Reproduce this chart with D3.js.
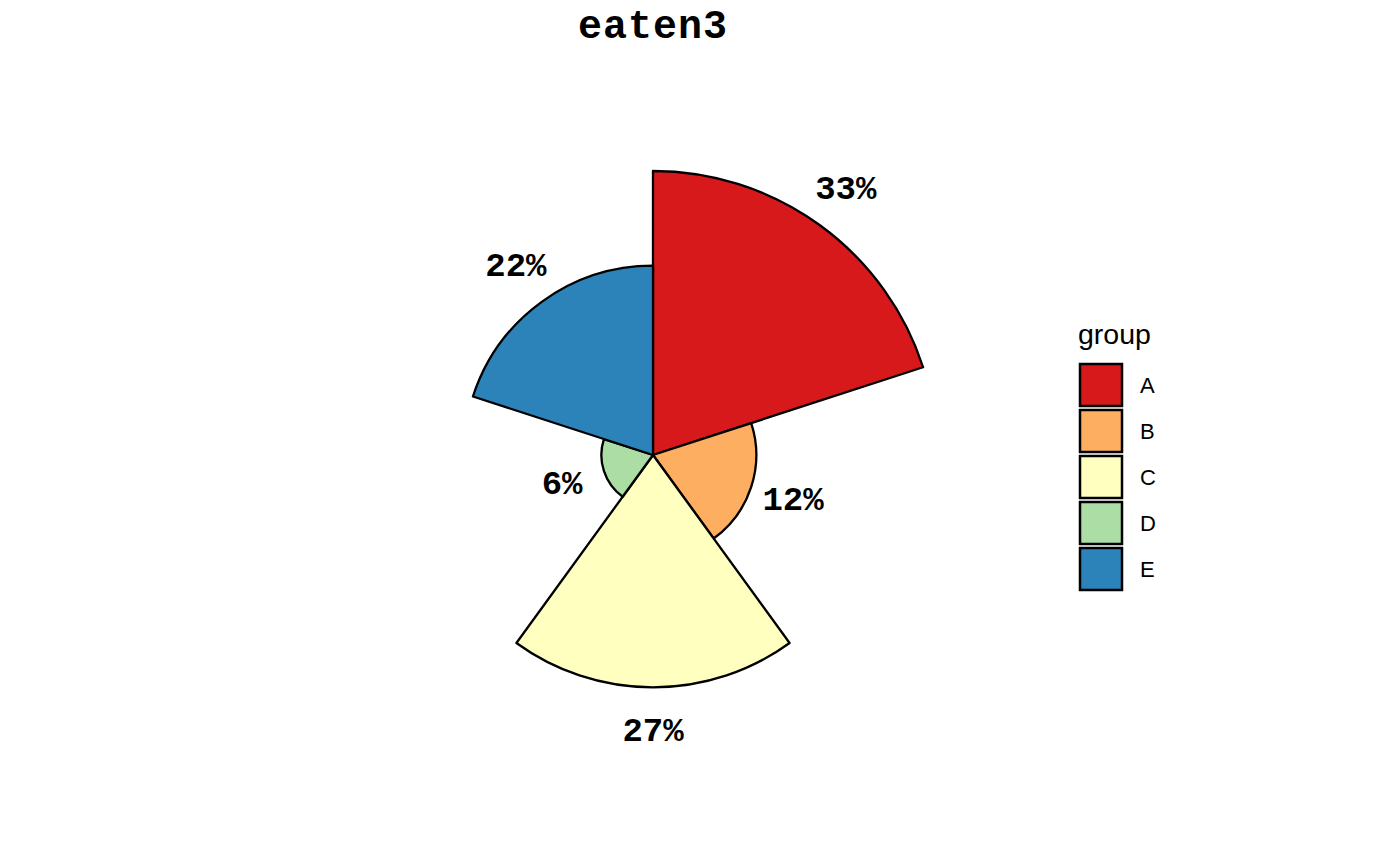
<!DOCTYPE html>
<html>
<head>
<meta charset="utf-8">
<script src="https://cdn.jsdelivr.net/npm/d3@7"></script>
<style>
  html, body { margin: 0; padding: 0; background: #fff; }
  svg { display: block; }
</style>
</head>
<body>
<svg id="chart" width="1400" height="865"></svg>
<script>
const titleText = "eaten3";
const legendTitle = "group";
const categories = ["A", "B", "C", "D", "E"];
const percents = [33, 12, 27, 6, 22];
const colors = ["#d7191c", "#fdae61", "#ffffbf", "#abdda4", "#2b83ba"];

const svg = d3.select("#chart");
const cx = 653, cy = 455;

const r = d3.scaleLinear().domain([0, 33]).range([0, 284]);
const color = d3.scaleOrdinal().domain(categories).range(colors);
const step = 2 * Math.PI / categories.length;

const data = categories.map((c, i) => ({ cat: c, value: percents[i], start: i * step, end: (i + 1) * step }));

const arc = d3.arc()
  .innerRadius(0)
  .outerRadius(d => r(d.value))
  .startAngle(d => d.start)
  .endAngle(d => d.end);

const g = svg.append("g").attr("transform", `translate(${cx},${cy})`);

g.selectAll("path.slice")
  .data(data)
  .join("path")
  .attr("class", "slice")
  .attr("d", arc)
  .attr("fill", d => color(d.cat))
  .attr("stroke", "#000")
  .attr("stroke-width", 2.3)
  .attr("stroke-linejoin", "round");

g.selectAll("text.lab")
  .data(data)
  .join("text")
  .attr("class", "lab")
  .attr("x", d => Math.sin((d.start + d.end) / 2) * (r(d.value) + 44))
  .attr("y", d => -Math.cos((d.start + d.end) / 2) * (r(d.value) + 44))
  .attr("dy", "0.28em")
  .attr("text-anchor", "middle")
  .attr("font-family", "'Liberation Mono', 'Courier New', monospace")
  .attr("font-weight", "bold")
  .attr("font-size", 34)
  .text(d => d.value + "%");

svg.append("text")
  .attr("x", 653)
  .attr("y", 38)
  .attr("text-anchor", "middle")
  .attr("font-family", "'Liberation Mono', 'Courier New', monospace")
  .attr("font-weight", "bold")
  .attr("font-size", 40)
  .attr("letter-spacing", 1)
  .text(titleText);

// legend
const lg = svg.append("g").attr("transform", "translate(1079,363)");
lg.append("text")
  .attr("x", -1)
  .attr("y", -19)
  .attr("font-family", "'Liberation Sans', Arial, sans-serif")
  .attr("font-size", 28.5)
  .text(legendTitle);

const items = lg.selectAll("g.item")
  .data(categories)
  .join("g")
  .attr("class", "item")
  .attr("transform", (d, i) => `translate(0,${i * 46})`);

items.append("rect")
  .attr("x", 1)
  .attr("y", 1)
  .attr("width", 42)
  .attr("height", 42)
  .attr("fill", d => color(d))
  .attr("stroke", "#000")
  .attr("stroke-width", 2.5);

items.append("text")
  .attr("x", 61)
  .attr("y", 22)
  .attr("dy", "0.35em")
  .attr("font-family", "'Liberation Sans', Arial, sans-serif")
  .attr("font-size", 22)
  .text(d => d);
</script>
</body>
</html>
